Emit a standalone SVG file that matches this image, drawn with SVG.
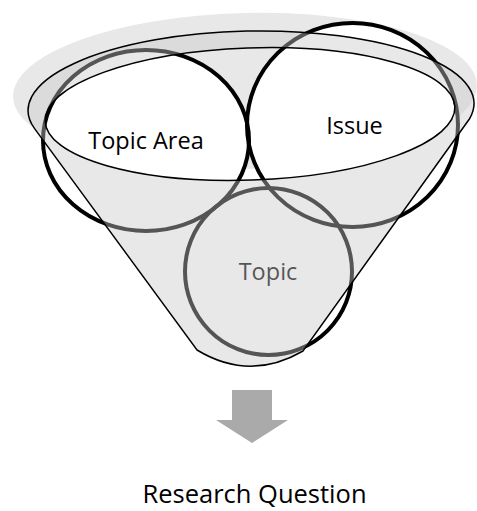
<svg xmlns="http://www.w3.org/2000/svg" xmlns:xlink="http://www.w3.org/1999/xlink" width="477" height="511" viewBox="0 0 477 511">
<style>
.lbl{font-family:"Open Sans","Noto Sans","DejaVu Sans",sans-serif;font-size:23.5px;fill:#000;text-anchor:middle}
.ring{fill:none;stroke:#000;stroke-width:4}
.bg{fill:#fff;stroke:none}
.thin{fill:none;stroke:#000;stroke-width:1.5}
</style>
<defs>
<ellipse id="e-ta" cx="146" cy="140.5" rx="103" ry="90.5"/>
<ellipse id="e-is" cx="352.5" cy="125" rx="105.5" ry="102"/>
<circle id="e-tp" cx="268.5" cy="271.5" r="83.5"/>
<mask id="hole" maskUnits="userSpaceOnUse" x="0" y="0" width="477" height="511">
<rect x="0" y="0" width="477" height="511" fill="#fff"/>
<ellipse cx="250" cy="114" rx="205" ry="66" transform="rotate(-2 250 114)" fill="#000"/>
</mask>
</defs>
<ellipse id="shadow" cx="245" cy="91" rx="232" ry="78" transform="rotate(-1.5 245 91)" fill="#e8e8e8"/>
<g id="fills">
<use xlink:href="#e-ta" class="bg"/>
<use xlink:href="#e-is" class="bg"/>
<use xlink:href="#e-tp" class="bg"/>
</g>
<g id="topic-area">
<use xlink:href="#e-ta" class="ring"/>
<text class="lbl" x="146" y="149">Topic Area</text>
</g>
<g id="issue">
<use xlink:href="#e-is" class="ring"/>
<text class="lbl" x="354.5" y="134">Issue</text>
</g>
<g id="topic">
<use xlink:href="#e-tp" class="ring"/>
<text class="lbl" x="268" y="280">Topic</text>
</g>
<g id="funnel">
<path d="M34.6,128.6 A223,76 -1 1 1 469.4,119 L303,351 Q250,382 197,350 Z" fill="#c9c9c9" fill-opacity="0.4235" mask="url(#hole)"/>
<path class="thin" d="M34.6,128.6 A223,76 -1 1 1 469.4,119 L303,351 Q250,382 197,350 Z"/>
<ellipse class="thin" cx="250" cy="114" rx="205" ry="66" transform="rotate(-2 250 114)"/>
</g>
<g id="connectors">
<polygon points="232,390 272,390 272,420 288,420 252,443 216,420 232,420" fill="#aaaaaa"/>
</g>
<g id="research-question">
<text class="lbl" x="254.5" y="503" style="font-size:25.5px">Research Question</text>
</g>
</svg>
